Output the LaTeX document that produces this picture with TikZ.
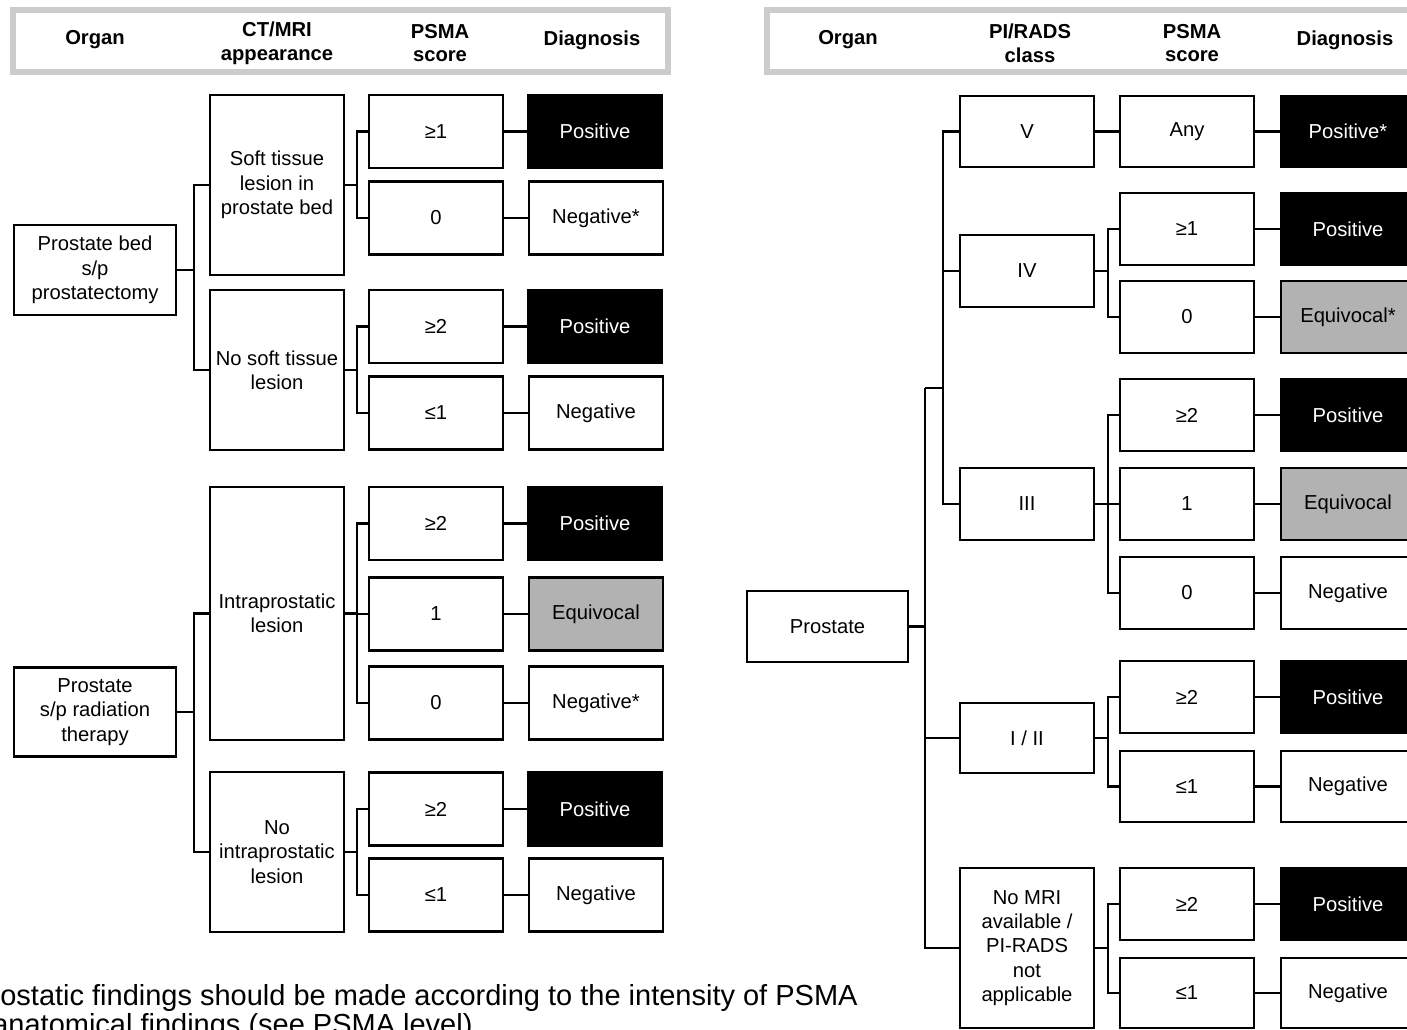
\documentclass[tikz,border=0pt]{standalone}
\usepackage{fontspec}
\setmainfont{Liberation Sans}
\begin{document}
\begin{tikzpicture}[x=0.02cm,y=-0.02cm,every node/.style={align=center,inner sep=1pt,font=\fontsize{11.5}{13.9}\selectfont},box/.style={draw,line width=1.3pt,minimum width=2.68cm,minimum height=1.46cm},posbox/.style={box,fill=black,text=white},equivbox/.style={box,fill=black!30},head/.style={draw=black!20,line width=3pt},headtext/.style={font=\fontsize{11.5}{13.6}\selectfont\bfseries},link/.style={line width=1.3pt}]

\useasboundingbox (0,0) rectangle (1407,1030);
\clip (0,0) rectangle (1407,1030);

\draw[head] (13,10) rectangle (668,72);
\draw[head] (767,10) rectangle (1425,72);
\node[headtext] (h1) at (95,40) {Organ};
\node[headtext] (h2) at (277,43) {CT/MRI\\appearance};
\node[headtext] (h3) at (440,43) {PSMA\\score};
\node[headtext] (h4) at (592,40) {Diagnosis};
\node[headtext] (h5) at (848,40) {Organ};
\node[headtext] (h6) at (1030,43) {PI/RADS\\class};
\node[headtext] (h7) at (1192,43) {PSMA\\score};
\node[headtext] (h8) at (1345,40) {Diagnosis};

\node[box,minimum width=3.24cm,minimum height=1.8cm] (o1) at (95,270) {Prostate bed\\s/p\\prostatectomy};
\node[box,minimum height=3.6cm] (t1) at (277,185) {Soft tissue\\lesion in\\prostate bed};
\node[box,minimum height=3.2cm] (t2) at (277,370) {No soft tissue\\lesion};
\node[box] (s1) at (436,131.5) {≥1};
\node[box] (s2) at (436,218) {0};
\node[box] (s3) at (436,326.5) {≥2};
\node[box] (s4) at (436,413) {≤1};
\node[posbox] (d1) at (595,131.5) {Positive};
\node[box] (d2) at (596,218) {Negative*};
\node[posbox] (d3) at (595,326.5) {Positive};
\node[box] (d4) at (596,413) {Negative};

\node[box,minimum width=3.24cm,minimum height=1.78cm] (o2) at (95,712) {Prostate\\s/p radiation\\therapy};
\node[box,minimum height=5.06cm] (t3) at (277,613.5) {Intraprostatic\\lesion};
\node[box,minimum height=3.2cm] (t4) at (277,852) {No\\intraprostatic\\lesion};
\node[box] (s5) at (436,523.5) {≥2};
\node[box] (s6) at (436,614) {1};
\node[box] (s7) at (436,703) {0};
\node[box] (s8) at (436,809) {≥2};
\node[box] (s9) at (436,895) {≤1};
\node[posbox] (d5) at (595,523.5) {Positive};
\node[equivbox] (d6) at (596,614) {Equivocal};
\node[box] (d7) at (596,703) {Negative*};
\node[posbox] (d8) at (595,809) {Positive};
\node[box] (d9) at (596,895) {Negative};

\node[box,minimum width=3.22cm,minimum height=1.42cm] (pr) at (827.5,626.5) {Prostate};
\node[box,minimum height=1.42cm] (cv) at (1027,131.5) {V};
\node[box,minimum height=1.44cm] (civ) at (1027,271) {IV};
\node[box,minimum height=1.44cm] (ciii) at (1027,504) {III};
\node[box,minimum height=1.4cm] (c12) at (1027,738) {I / II};
\node[box,minimum height=3.2cm] (cna) at (1027,948) {No MRI\\available /\\PI-RADS\\not\\applicable};
\node[box,minimum height=1.42cm] (any) at (1187,131.5) {Any};
\node[box,minimum height=1.44cm] (r1) at (1187,229) {≥1};
\node[box,minimum height=1.44cm] (r2) at (1187,317) {0};
\node[box,minimum height=1.44cm] (r3) at (1187,415) {≥2};
\node[box,minimum height=1.44cm] (r4) at (1187,504) {1};
\node[box,minimum height=1.44cm] (r5) at (1187,593) {0};
\node[box,minimum height=1.44cm] (r6) at (1187,697) {≥2};
\node[box,minimum height=1.42cm] (r7) at (1187,786.5) {≤1};
\node[box,minimum height=1.44cm] (r8) at (1187,904) {≥2};
\node[box,minimum height=1.4cm] (r9) at (1187,993) {≤1};
\node[posbox,minimum height=1.42cm] (e0) at (1348,131.5) {Positive*};
\node[posbox,minimum height=1.44cm] (e1) at (1348,229) {Positive};
\node[equivbox,minimum height=1.44cm] (e2) at (1348,317) {Equivocal*};
\node[posbox,minimum height=1.44cm] (e3) at (1348,415) {Positive};
\node[equivbox,minimum height=1.44cm] (e4) at (1348,504) {Equivocal};
\node[box,minimum height=1.44cm] (e5) at (1348,593) {Negative};
\node[posbox,minimum height=1.44cm] (e6) at (1348,697) {Positive};
\node[box,minimum height=1.42cm] (e7) at (1348,786.5) {Negative};
\node[posbox,minimum height=1.44cm] (e8) at (1348,904) {Positive};
\node[box,minimum height=1.4cm] (e9) at (1348,993) {Negative};

\foreach \a/\b/\l in {o1/t1/17,o1/t2/17,t1/s1/12,t1/s2/12,t2/s3/12,t2/s4/12,o2/t3/17,o2/t4/17,t3/s5/12,t3/s6/12,t3/s7/12,t4/s8/12,t4/s9/12,civ/r1/13,civ/r2/13,ciii/r3/13,ciii/r4/13,ciii/r5/13,c12/r6/13,c12/r7/13,cna/r8/13,cna/r9/13}
  \draw[link] (\a.east) -- ++(\l,0) |- (\b.west);
\foreach \a/\b in {s1/d1,s2/d2,s3/d3,s4/d4,s5/d5,s6/d6,s7/d7,s8/d8,s9/d9,cv/any,any/e0,r1/e1,r2/e2,r3/e3,r4/e4,r5/e5,r6/e6,r7/e7,r8/e8,r9/e9}
  \draw[link] (\a.east) -- (\b.west);

\coordinate (ja) at (925,388);
\coordinate (jb) at (943,388);
\draw[link] (pr.east) -- (pr.east -| ja);
\draw[link] (ja) |- (c12.west) (ja) |- (cna.west) (ja) -- (jb);
\draw[link] (jb) |- (cv.west) (jb) |- (civ.west) (jb) |- (ciii.west);

\node[anchor=base west,inner sep=0pt,font=\fontsize{16.5}{20}\selectfont] (cap1) at (0,1005) {ostatic findings should be made according to the intensity of PSMA};
\node[anchor=base west,inner sep=0pt,font=\fontsize{16.5}{20}\selectfont] (cap2) at (-8,1034) {anatomical findings (see PSMA level)};
\end{tikzpicture}
\end{document}
